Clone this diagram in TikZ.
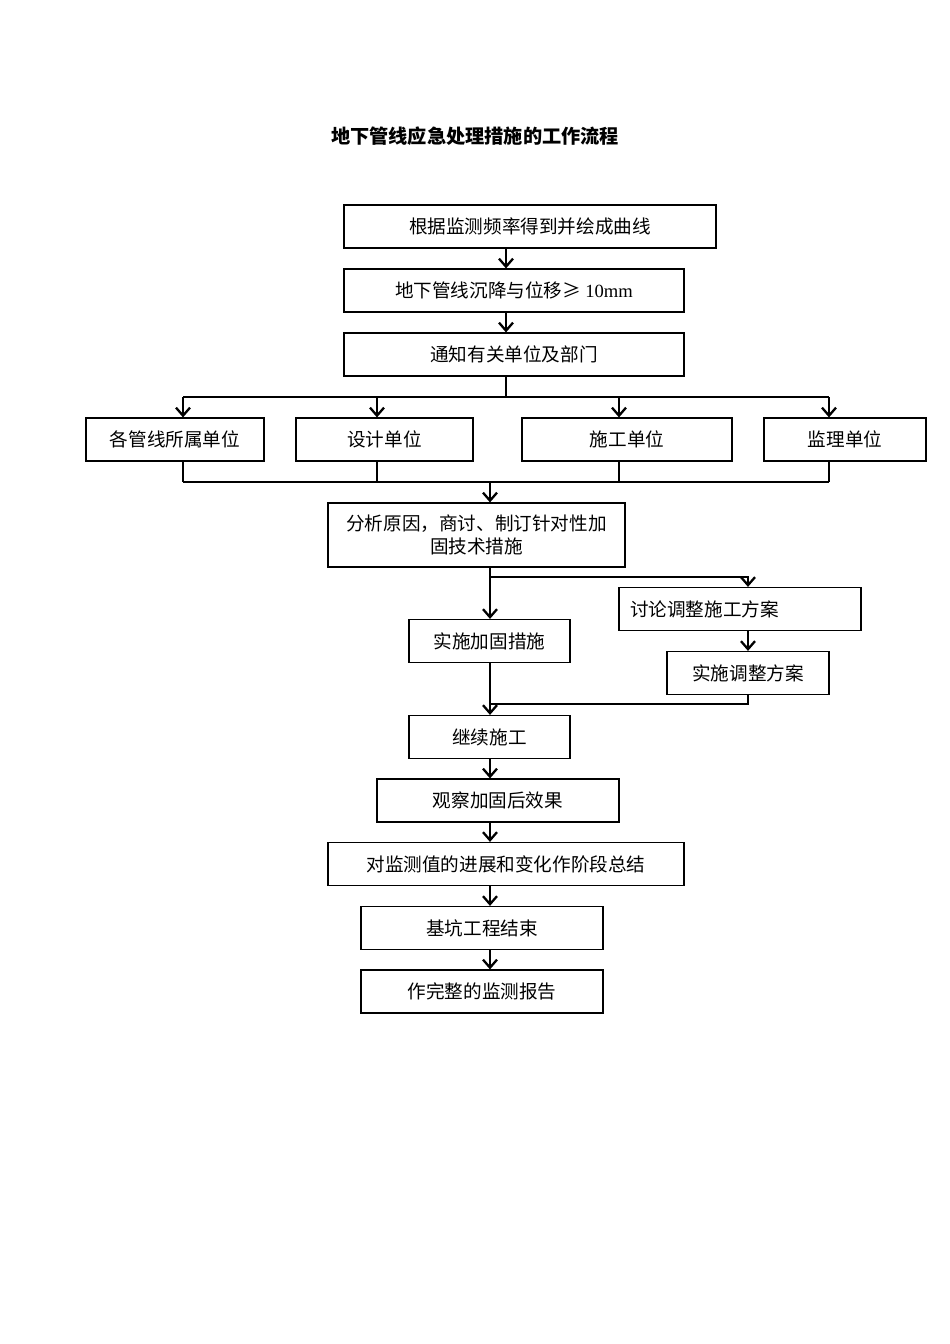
\documentclass[tikz,border=0pt]{standalone}
\usepackage{fontspec}
\setmainfont{Noto Sans CJK SC}
\newfontfamily\latin{Liberation Serif}
\usetikzlibrary{arrows.meta, positioning, calc}

\begin{document}
\begin{tikzpicture}[
      x=1pt, y=-1pt,
      unit/.style={
        draw,
        line width=1.2pt,
        align=center,
        minimum height=43pt,
        inner sep=0pt,
        font=\fontsize{18.6}{23}\selectfont
      },
      flow/.style={-{Straight Barb[length=8pt, width=14pt, line width=2.3pt]}, line width=1.5pt},
      link/.style={line width=1.5pt}
    ]
    \useasboundingbox[fill=white] (0,0) rectangle (950,1344);

    \node[font=\fontsize{19.2}{23}\selectfont\bfseries] (title) at (475,136) {地下管线应急处理措施的工作流程};

    % main chain
    \node[unit, minimum width=372pt] (curve) at (530,226.5) {根据监测频率得到并绘成曲线};
    \node[unit, minimum width=340pt] (settle) at (514,290.5) {地下管线沉降与位移≥ {\latin 10mm}};
    \node[unit, minimum width=340pt] (notify) at (514,354.5) {通知有关单位及部门};

    % parties
    \node[unit, minimum width=178pt] (owners) at (175,439.5) {各管线所属单位};
    \node[unit, minimum width=177pt] (design) at (384.5,439.5) {设计单位};
    \node[unit, minimum width=210pt] (build) at (627,439.5) {施工单位};
    \node[unit, minimum width=162pt] (supervise) at (845,439.5) {监理单位};

    \node[unit, minimum width=297pt, minimum height=64pt] (analysis) at (476.5,535) {分析原因，商讨、制订针对性加\\固技术措施};
    \node[unit, minimum width=242pt, text width=220pt, align=left] (discuss) at (740,609) {讨论调整施工方案};
    \node[unit, minimum width=161pt] (reinforce) at (489.5,641) {实施加固措施};
    \node[unit, minimum width=162pt] (execute) at (748,673) {实施调整方案};

    \node[unit, minimum width=161pt] (continue) at (489.5,737) {继续施工};
    \node[unit, minimum width=242pt] (observe) at (498,800.5) {观察加固后效果};
    \node[unit, minimum width=356pt] (summary) at (506,864) {对监测值的进展和变化作阶段总结};
    \node[unit, minimum width=242pt] (finish) at (482,928) {基坑工程结束};
    \node[unit, minimum width=242pt] (report) at (482,991.5) {作完整的监测报告};

    \coordinate (spine) at (506,0);
    \coordinate (axis) at (490,0);
    \coordinate (topbus) at (506,397);
    \coordinate (lowbus) at (490,482);
    \coordinate (fork) at (490,577);
    \coordinate (merge) at (490,704);

    \draw[flow] (curve.south -| spine) -- (settle.north -| spine);
    \draw[flow] (settle.south -| spine) -- (notify.north -| spine);
    \draw[link] (notify.south -| spine) -- (topbus);
    \draw[link] (183,397) -- (829,397);
    \draw[link] (183,482) -- (829,482);
    \foreach \n/\x in {owners/183, design/377, build/619, supervise/829} {
      \draw[flow] (\x,397) -- (\n.north -| \x,0);
      \draw[link] (\n.south -| \x,0) -- (\x,482);
    }
    \draw[flow] (lowbus) -- (analysis.north -| axis);

    \draw[flow] (analysis.south -| axis) -- (reinforce.north -| axis);
    \draw[flow] (fork) -| (discuss.north -| execute.north);
    \draw[flow] (discuss.south -| execute.north) -- (execute.north);
    \draw[link] (execute.south) |- (merge);
    \draw[flow] (reinforce.south -| axis) -- (continue.north -| axis);

    \draw[flow] (continue.south -| axis) -- (observe.north -| axis);
    \draw[flow] (observe.south -| axis) -- (summary.north -| axis);
    \draw[flow] (summary.south -| axis) -- (finish.north -| axis);
    \draw[flow] (finish.south -| axis) -- (report.north -| axis);
  \end{tikzpicture}
\end{document}
